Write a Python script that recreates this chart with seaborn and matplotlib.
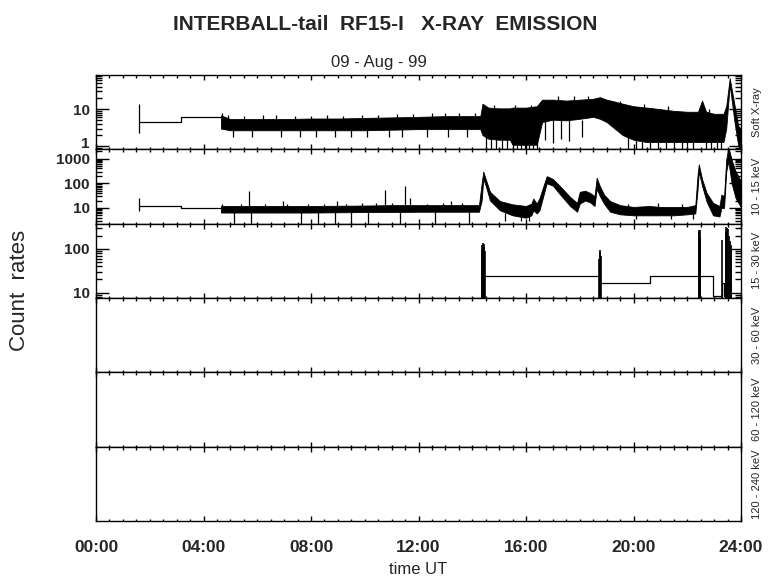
import matplotlib
matplotlib.use("Agg")
import matplotlib.pyplot as plt
import matplotlib.transforms as mtransforms
import seaborn as sns
import pandas as pd
from matplotlib.ticker import MultipleLocator, NullLocator, LogLocator, NullFormatter

# ---------------- data (time in hours UT) ----------------
channels = ["Soft X-ray", "10 - 15 keV", "15 - 30 keV", "30 - 60 keV", "60 - 120 keV", "120 - 240 keV"]
hour_labels = ["00:00", "04:00", "08:00", "12:00", "16:00", "20:00", "24:00"]

# panel 1 : Soft X-ray
sx_step_t = [1.6, 3.15, 4.65]
sx_step_v = [4.6, 6.2, 6.2]
sx_band_t = [4.65, 5.0, 6.0, 7.0, 8.0, 9.0, 10.0, 11.0, 12.0, 13.0, 14.0, 14.3, 14.38, 14.6, 15.0,
             15.4, 15.5, 16.0, 16.4, 16.6, 17.0, 17.5, 18.0, 18.5, 18.75, 19.0, 19.3, 19.6, 20.0,
             20.5, 21.0, 21.5, 22.0, 22.4, 22.55, 22.7, 23.0, 23.35, 23.45, 23.58, 23.75, 23.9, 24.0]
sx_band_hi = [6.8, 5.4, 5.4, 5.4, 5.6, 5.6, 5.8, 6.0, 6.2, 6.5, 6.5, 6.5, 14.0, 11.0, 10.5,
              10.5, 11.0, 11.0, 12.0, 18.0, 18.0, 17.0, 18.0, 19.0, 21.0, 18.0, 16.0, 14.0, 12.0,
              11.0, 10.0, 9.0, 8.5, 8.5, 17.0, 8.5, 7.5, 7.5, 12.0, 68.0, 14.0, 3.5, 3.0]
sx_band_lo = [3.0, 2.7, 2.7, 2.7, 2.7, 2.7, 2.7, 2.8, 2.9, 2.9, 2.9, 2.9, 2.0, 1.6, 1.5,
              1.5, 1.1, 1.1, 1.1, 4.5, 5.2, 5.0, 5.5, 6.2, 5.5, 4.5, 3.0, 2.0, 1.5,
              1.3, 1.3, 1.3, 1.3, 1.3, 1.3, 1.3, 1.3, 1.3, 3.0, 45.0, 5.0, 1.0, 0.8]
sx_spk_t = [1.6, 5.1, 5.8, 6.9, 7.6, 8.2, 8.9, 9.5, 10.1, 10.9, 11.4, 12.3, 13.1, 13.8,
            14.5, 14.7, 14.9, 15.1, 15.3, 15.5, 15.65, 15.8, 15.95, 16.1, 16.25, 16.4,
            16.7, 17.0, 17.3, 17.6, 18.1, 19.8, 20.1, 20.3, 20.6,
            20.9, 21.2, 21.5, 21.8, 22.0, 22.2, 22.7, 22.9, 23.1, 23.25,
            4.7, 4.9, 5.5, 6.2, 6.7, 7.4, 8.0, 8.6, 9.2, 9.9, 10.5, 11.2, 11.8, 12.5, 13.0,
            13.5, 14.1, 14.8, 15.6, 16.2, 17.2, 17.8, 18.3, 19.5, 20.4, 21.3, 22.8]
sx_spk_lo = [2.3, 1.8, 1.8, 1.8, 1.8, 1.8, 1.8, 1.8, 1.8, 1.8, 1.8, 1.8, 1.8, 1.8,
             0.8, 0.8, 0.8, 0.8, 0.8, 0.8, 0.8, 0.8, 0.8, 0.8, 0.8, 0.8,
             1.5, 1.2, 1.6, 1.4, 1.8, 0.8, 0.8, 0.8, 0.8,
             0.8, 0.8, 0.8, 0.8, 0.8, 0.8, 0.8, 0.8, 0.8, 0.8,
             4.0, 4.0, 4.0, 4.0, 4.0, 4.0, 4.0, 4.0, 4.0, 4.0, 4.0, 4.0, 4.0, 4.0, 4.0,
             4.0, 4.0, 8.0, 8.0, 8.0, 12.0, 12.0, 12.0, 9.0, 8.0, 7.0, 6.0]
sx_spk_hi = [14.0, 3.0, 3.0, 3.0, 3.0, 3.0, 3.0, 3.0, 3.0, 3.0, 3.0, 3.0, 3.0, 3.0,
             2.0, 2.0, 2.0, 2.0, 2.0, 1.5, 1.5, 1.5, 1.5, 1.5, 1.5, 1.5,
             5.0, 5.0, 5.0, 5.0, 5.0, 2.0, 2.0, 2.0, 2.0,
             2.0, 2.0, 2.0, 2.0, 2.0, 2.0, 2.0, 2.0, 2.0, 2.0,
             8.0, 7.0, 6.5, 7.0, 7.0, 6.5, 6.5, 7.0, 6.5, 7.0, 7.0, 7.5, 7.5, 8.0, 8.0,
             8.0, 8.0, 13.0, 13.0, 13.0, 22.0, 22.0, 23.0, 17.0, 14.0, 12.0, 10.0]

# panel 2 : 10 - 15 keV
lo_step_t = [1.6, 3.15, 4.65]
lo_step_v = [11.6, 10.0, 10.0]
lo_band_t = [4.65, 6.0, 8.0, 10.0, 11.0, 12.0, 13.0, 14.25, 14.35, 14.41, 14.5, 14.66, 15.03, 15.5,
             16.0, 16.2, 16.27, 16.4, 16.5, 16.77, 17.0, 17.27, 17.64, 17.9, 18.0, 18.2, 18.38,
             18.55, 18.63, 18.75, 18.9, 19.13, 19.5, 20.0, 20.6, 21.0, 21.5, 22.0, 22.3, 22.38,
             22.43, 22.55, 22.72, 22.96, 23.2, 23.27, 23.37, 23.45, 23.53, 23.65, 23.8, 23.97, 24.0]
lo_band_hi = [12, 12, 12, 12.5, 13, 13, 13, 13, 100, 300, 150, 45, 19, 14,
              12, 15, 24, 15, 25, 195, 150, 76, 28, 16, 45, 50, 41,
              30, 167, 76, 35, 19, 13, 11, 12, 11, 11, 11, 13, 200,
              590, 150, 41, 16, 12, 35, 30, 900, 3000, 900, 300, 140, 100]
lo_band_lo = [6.5, 6.5, 6.5, 6.8, 6.8, 7.0, 7.0, 7.0, 20, 150, 80, 20, 8, 5,
              4, 5, 8, 6, 8, 100, 80, 35, 12, 7, 15, 20, 17,
              12, 60, 30, 15, 7, 5.5, 5, 5, 5, 5, 5.5, 6, 50,
              300, 80, 18, 5, 4.5, 10, 10, 300, 800, 100, 25, 12, 10]
lo_spk_t = [1.6, 5.7, 6.95, 8.95, 9.9, 10.75, 11.5, 11.7, 13.2,
            5.13, 5.78, 7.62, 8.25, 8.89, 9.48, 10.13, 11.31, 12.61, 13.89, 15.2, 15.8, 16.1,
            20.1, 21.4, 22.2,
            4.7, 5.4, 6.3, 7.1, 7.9, 8.5, 9.3, 10.4, 11.0, 12.3, 12.9, 13.6, 19.8, 20.9, 21.8]
lo_spk_lo = [7.3, 10, 10, 10, 10, 10, 10, 10, 10,
             2.3, 2.3, 2.3, 2.3, 2.3, 2.3, 2.3, 2.3, 2.3, 2.3, 3.0, 3.0, 3.0,
             3.5, 3.5, 3.5,
             9, 9, 9, 9, 9, 9, 9, 9, 9, 9, 9, 9, 9, 9, 9]
lo_spk_hi = [26, 48, 20, 20, 16, 56, 76, 26, 20,
             7, 7, 7, 7, 7, 7, 7, 7, 7, 7, 6, 6, 6,
             6, 6, 6,
             15, 14, 15, 14, 15, 14, 15, 16, 16, 15, 16, 16, 15, 16, 15]

# panel 3 : 15 - 30 keV
mid_step_t = [14.42, 18.76, 20.6, 22.94, 23.30, 23.36, 23.62]
mid_step_v = [24.0, 16.5, 24.0, 8.4, 16.5, 8.4, 8.4]
mid_spk_t = [14.36, 14.38, 14.40, 14.42, 14.44, 14.46, 18.72, 18.74, 18.76, 18.78,
             22.42, 22.44, 22.46, 22.48,
             23.28, 23.43, 23.46, 23.49, 23.52, 23.55, 23.58, 23.61, 23.64]
mid_spk_hi = [95, 120, 135, 130, 110, 90, 60, 96, 85, 70,
              250, 277, 277, 180,
              163, 250, 320, 300, 280, 200, 150, 120, 90]

# ---------------- figure ----------------
sns.set_style("ticks")
plt.rcParams['font.family'] = ['Liberation Sans', 'DejaVu Sans']

fig, axes = plt.subplots(6, 1, figsize=(7.8, 5.79), dpi=100, sharex=True)
fig.subplots_adjust(left=0.1231, right=0.95, top=0.8705, bottom=0.1002, hspace=0)

ylims = [(0.83, 83), (2.3, 2400), (7.5, 380)]
yticks = [[1, 10], [10, 100, 1000], [10, 100]]

lw = 0.9
for i, ax in enumerate(axes):
    for s in ax.spines.values():
        s.set_linewidth(1.0)
        s.set_color("black")
    ax.set_xlim(0, 24)
    ax.xaxis.set_major_locator(MultipleLocator(4))
    ax.xaxis.set_minor_locator(MultipleLocator(0.5))
    ax.tick_params(axis="x", which="major", direction="in", length=3.4, width=1,
                   top=True, bottom=True, color="black")
    ax.tick_params(axis="x", which="minor", direction="in", length=1.8, width=1,
                   top=True, bottom=True, color="black")
    if i < 3:
        ax.set_yscale("log")
        ax.set_ylim(*ylims[i])
        ax.set_yticks(yticks[i])
        ax.set_yticklabels([str(v) for v in yticks[i]])
        ax.yaxis.set_minor_locator(LogLocator(base=10, subs=range(2, 10), numticks=20))
        ax.yaxis.set_minor_formatter(NullFormatter())
        ax.tick_params(axis="y", which="major", direction="in", length=9, width=1,
                       left=True, right=True, labelsize=11, pad=4.5, color="black")
        ax.tick_params(axis="y", which="minor", direction="in", length=4, width=1,
                       left=True, right=True, color="black")
        for lab in ax.get_yticklabels():
            lab.set_fontweight("bold")
    else:
        ax.yaxis.set_major_locator(NullLocator())
        ax.yaxis.set_minor_locator(NullLocator())
        ax.tick_params(axis="y", left=False, right=False)
    ax.set_ylabel("")
    ax.text(1.025, 0.5, channels[i], transform=ax.transAxes, rotation=90,
            ha="center", va="center", fontsize=8)

# lift the "1" label a little so it clears the "1000" below it
lab1 = axes[0].get_yticklabels()[0]
lab1.set_transform(lab1.get_transform() +
                   mtransforms.ScaledTranslation(0, 3 / 72, fig.dpi_scale_trans))

# panel 1
ax = axes[0]
sns.lineplot(x=sx_step_t, y=sx_step_v, ax=ax, color="black", lw=lw,
             drawstyle="steps-post", estimator=None, sort=False)
ax.fill_between(sx_band_t, sx_band_lo, sx_band_hi, color="black", lw=0.6)
ax.vlines(sx_spk_t, sx_spk_lo, sx_spk_hi, color="black", lw=lw)

# panel 2
ax = axes[1]
sns.lineplot(x=lo_step_t, y=lo_step_v, ax=ax, color="black", lw=lw,
             drawstyle="steps-post", estimator=None, sort=False)
ax.fill_between(lo_band_t, lo_band_lo, lo_band_hi, color="black", lw=0.6)
ax.vlines(lo_spk_t, lo_spk_lo, lo_spk_hi, color="black", lw=lw)

# panel 3
ax = axes[2]
sns.lineplot(x=mid_step_t, y=mid_step_v, ax=ax, color="black", lw=lw,
             drawstyle="steps-post", estimator=None, sort=False)
ax.vlines(mid_spk_t, [5] * len(mid_spk_t), mid_spk_hi, color="black", lw=1.2)

# x tick labels on bottom panel
axes[-1].set_xticks(range(0, 25, 4))
axes[-1].set_xticklabels(hour_labels)
axes[-1].tick_params(axis="x", which="major", labelsize=12.5, pad=14)
for lab in axes[-1].get_xticklabels():
    lab.set_fontweight("bold")

# texts
fig.text(385 / 780, 1 - 25 / 579, "INTERBALL-tail  RF15-I   X-RAY  EMISSION",
         ha="center", va="center", fontsize=15, fontweight="bold")
fig.text(379 / 780, 1 - 62 / 579, "09 - Aug - 99", ha="center", va="center", fontsize=12)
fig.text(418.5 / 780, 1 - 569 / 579, "time UT", ha="center", va="center", fontsize=12)
fig.text(20 / 780, 1 - 290 / 579, "Count  rates", ha="center", va="center",
         rotation=90, fontsize=16)

fig.savefig("out.png", dpi=100)
